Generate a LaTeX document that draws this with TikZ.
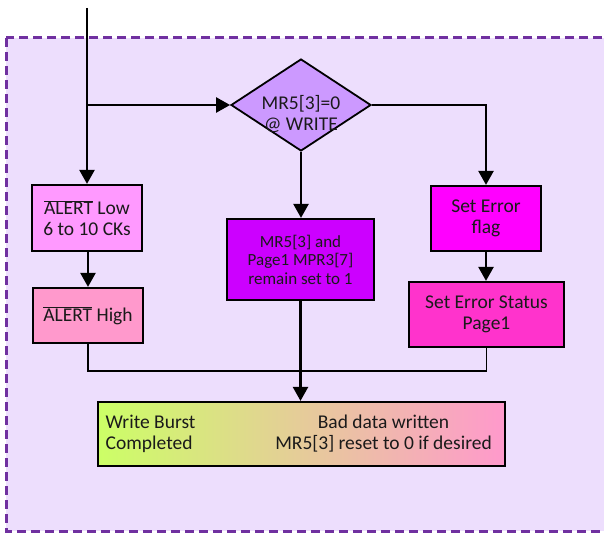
\documentclass[tikz,border=0pt]{standalone}
\usepackage{fontspec}
\setmainfont{Carlito}
\usetikzlibrary{arrows.meta,shapes.geometric}
\definecolor{bgl}{HTML}{EDDEFD}
\definecolor{frame}{HTML}{7030A0}
\definecolor{diac}{HTML}{CC99FF}
\definecolor{alowc}{HTML}{FF99FF}
\definecolor{ahighc}{HTML}{FF99CC}
\definecolor{midc}{HTML}{CC00FF}
\definecolor{flagc}{HTML}{FF00FF}
\definecolor{statc}{HTML}{FF33CC}
\definecolor{gA}{HTML}{CCFF66}
\definecolor{gB}{HTML}{FF99CC}
\definecolor{txt}{HTML}{1A1A1A}
\newcommand\ovl[1]{\ensuremath{\overline{\hbox{#1}}}}
\newcommand\fsmain{\fontsize{19.5pt}{21pt}\selectfont}
\newcommand\fsmid{\fontsize{17pt}{18.5pt}\selectfont}
\tikzset{
  boxn/.style={draw, line width=2.2pt, inner sep=0pt, align=center, font=\fsmain, text=txt},
  txtn/.style={inner sep=0pt, font=\fsmain, text=txt},
  arr/.style={line width=2.4pt, -{Triangle[length=14pt,width=15pt]}},
  thinl/.style={line width=1.6pt},
}
\begin{document}
\begin{tikzpicture}[x=1pt,y=-1pt]
\useasboundingbox (0,0) rectangle (604,532);
\fill[white] (0,0) rectangle (604,532);
\begin{scope}
\clip (0,0) rectangle (604,532);
\draw[frame, fill=bgl, line width=3pt, dash pattern=on 9pt off 5pt] (6,38) rectangle (630,531);
\end{scope}

% decision
\node[diamond, draw, fill=diac, line width=1.8pt, minimum width=140pt, minimum height=92pt, inner sep=0pt] (dia) at (301,105) {};
\node[txtn, align=center] (diat) at (301,114) {MR5[3]=0\\@ WRITE};

% boxes
\node[boxn, fill=alowc, minimum width=110pt, minimum height=66pt] (alow) at (87,218) {\ovl{ALERT} Low\\6 to 10 CKs};
\node[boxn, fill=ahighc, minimum width=110pt, minimum height=55pt] (ahigh) at (88,315.5) {\ovl{ALERT} High};
\node[boxn, fill=midc, minimum width=147pt, minimum height=81pt, font=\fsmid] (mid) at (300.5,259.5) {MR5[3] and\\Page1 MPR3[7]\\remain set to 1};
\node[boxn, fill=flagc, minimum width=110pt, minimum height=65pt] (flag) at (486,218.5) {Set Error\\flag};
\node[boxn, fill=statc, minimum width=155pt, minimum height=65pt] (stat) at (486.5,314.5) {Set Error Status\\Page1};

% result
\node[draw, line width=2.2pt, left color=gA, right color=gB, minimum width=407pt, minimum height=64pt, inner sep=0pt] (res) at (301.5,434) {};
\node[txtn, align=left, anchor=west] (rest1) at (105.5,434) {Write Burst\\Completed};
\node[txtn, align=center] (rest2) at (383.5,434) {Bad data written\\MR5[3] reset to 0 if desired};

% connectors
\coordinate (top) at (87,8);
\coordinate (j1) at (87,105);
\coordinate (j2) at (300.5,371);
\draw[arr] (top) -- (alow.north);
\draw[arr] (j1) -- (dia.west);
\draw[arr] (dia.east) -| (flag.north);
\draw[arr] (dia.south) -- (dia.south |- mid.north);
\draw[arr] (alow.south -| ahigh.north) -- (ahigh.north);
\draw[arr] (flag.south) -- (flag.south |- stat.north);
\draw[thinl] (ahigh.south) |- (j2) -| (stat.south);
\draw[arr] (mid.south) -- (mid.south |- res.north);
\end{tikzpicture}
\end{document}
